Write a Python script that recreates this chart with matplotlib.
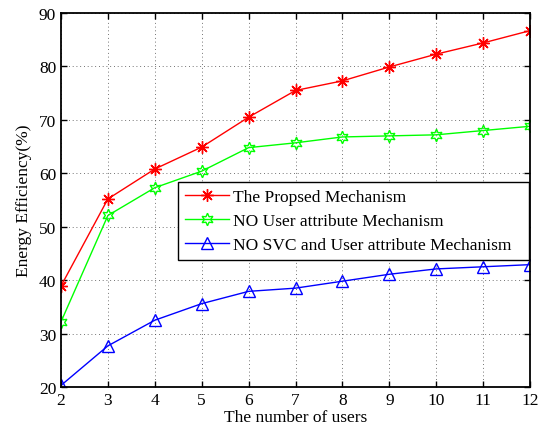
import numpy as np
import matplotlib.pyplot as plt

plt.rcParams['font.family'] = ['Liberation Serif', 'DejaVu Serif']

users = [2, 3, 4, 5, 6, 7, 8, 9, 10, 11, 12]
proposed = [38.9, 55.2, 60.8, 64.9, 70.5, 75.5, 77.3, 79.9, 82.3, 84.4, 86.7]
no_user = [32.2, 52.1, 57.3, 60.4, 64.8, 65.7, 66.8, 67.0, 67.2, 68.0, 68.8]
no_svc_user = [20.3, 27.7, 32.5, 35.6, 37.9, 38.5, 39.8, 41.1, 42.1, 42.5, 42.9]
names = ["The Propsed Mechanism", "NO User attribute Mechanism",
         "NO SVC and User attribute Mechanism"]

fig = plt.figure(figsize=(5.47, 4.31), dpi=100)
ax = fig.add_axes([0.1115, 0.0998, 0.8575, 0.8677])

ax.plot(users, proposed, color='red', lw=1, marker=(8, 2, 0), ms=9, mew=1, label=names[0])
ax.plot(users, no_user, color='#00ff00', lw=1, marker=(6, 1, 0), ms=9, mew=1,
        mfc='none', label=names[1])
ax.plot(users, no_svc_user, color='blue', lw=1, marker='^', ms=9, mew=1,
        mfc='none', label=names[2])

ax.set_xlim(2, 12)
ax.set_ylim(20, 90)
ax.set_xticks(users)
ax.set_yticks(np.arange(20, 91, 10))
ax.grid(True, linestyle=(0, (1, 3.5)), color='#444444', lw=0.6)
ax.tick_params(direction='in', top=True, right=True, labelsize=12.5, length=4, width=1)
for s in ax.spines.values():
    s.set_linewidth(1.3)

ax.set_xlabel("The number of users", fontsize=12.5, labelpad=1)
ax.set_ylabel("Energy Efficiency(%)", fontsize=12.5, labelpad=5)

leg = ax.legend(loc='upper left', bbox_to_anchor=(0.2495, 0.345, 0.7485, 0.203),
                mode='expand', fontsize=12.5, fancybox=False, framealpha=1,
                edgecolor='black', borderaxespad=0, handlelength=2.5,
                handletextpad=0.27, labelspacing=0.44, borderpad=0.42)
leg.get_frame().set_linewidth(1)

fig.savefig("out.png", dpi=100)
